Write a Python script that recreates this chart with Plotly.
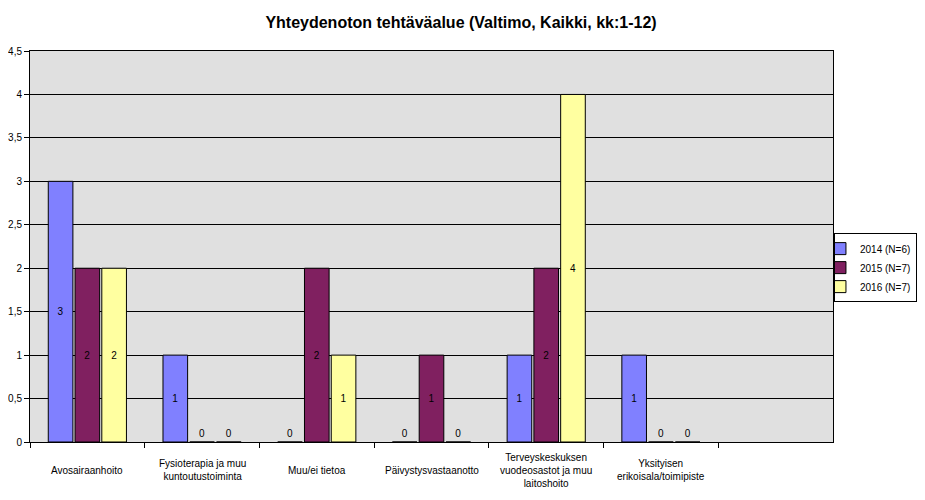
import plotly.graph_objects as go

categories = ["Avosairaanhoito", "Fysioterapia ja muu<br>kuntoutustoiminta", "Muu/ei tietoa",
              "Päivystysvastaanotto", "Terveyskeskuksen<br>vuodeosastot ja muu<br>laitoshoito",
              "Yksityisen<br>erikoisala/toimipiste"]
series_names = ["2014 (N=6)", "2015 (N=7)", "2016 (N=7)"]
v2014 = [3, 1, 0, 0, 1, 1]
v2015 = [2, 0, 2, 1, 2, 0]
v2016 = [2, 0, 1, 0, 4, 0]
colors = ["#8080FF", "#802060", "#FFFFA0"]
y_ticks = [0, 0.5, 1, 1.5, 2, 2.5, 3, 3.5, 4, 4.5]

FONT = "Liberation Sans, Arial, sans-serif"
fig = go.Figure()
for name, vals, col in zip(series_names, [v2014, v2015, v2016], colors):
    fig.add_trace(go.Bar(
        x=categories, y=vals, name=name,
        marker=dict(color=col, line=dict(color="black", width=1)),
        text=[str(v) for v in vals],
        textposition=["inside" if v else "outside" for v in vals],
        insidetextanchor="middle",
        textangle=0,
        constraintext="none",
        textfont=dict(family=FONT, size=10, color="black"),
        cliponaxis=False,
    ))

for c in categories:
    fig.add_annotation(x=c, xref="x", y=-0.072, yref="paper", text=c, showarrow=False,
                       yanchor="middle", xanchor="center",
                       font=dict(family=FONT, size=10, color="black"))

fig.update_layout(
    width=917, height=492,
    paper_bgcolor="white", plot_bgcolor="#E0E0E0",
    margin=dict(l=22, r=92, t=43, b=58, autoexpand=False),
    barmode="group", bargap=0.3, bargroupgap=0.08,
    separators=", ",
    title=dict(text="<b>Yhteydenoton tehtäväalue (Valtimo, Kaikki, kk:1-12)</b>",
               x=0.494, xanchor="center", y=0.971, yanchor="middle",
               font=dict(family=FONT, size=16, color="black")),
    legend=dict(x=1.0012, xanchor="left", y=0.446, yanchor="middle",
                bordercolor="black", borderwidth=1, bgcolor="white",
                font=dict(family=FONT, size=10, color="black"),
                tracegroupgap=3, itemwidth=30, indentation=-15),
    showlegend=True,
)
fig.update_xaxes(range=[-0.5, 6.5], showticklabels=False, ticks="outside", tickson="boundaries",
                 ticklen=5, tickcolor="black", showline=True, linecolor="black", linewidth=1,
                 mirror=True, showgrid=False, automargin=False)
fig.update_yaxes(range=[0, 4.5], tickvals=y_ticks, ticks="outside", ticklen=5, tickcolor="black",
                 showline=True, linecolor="black", linewidth=1, mirror=True,
                 showgrid=True, gridcolor="black", gridwidth=1, zeroline=False, automargin=False,
                 tickfont=dict(family=FONT, size=10, color="black"))

fig.write_html("out.html")
